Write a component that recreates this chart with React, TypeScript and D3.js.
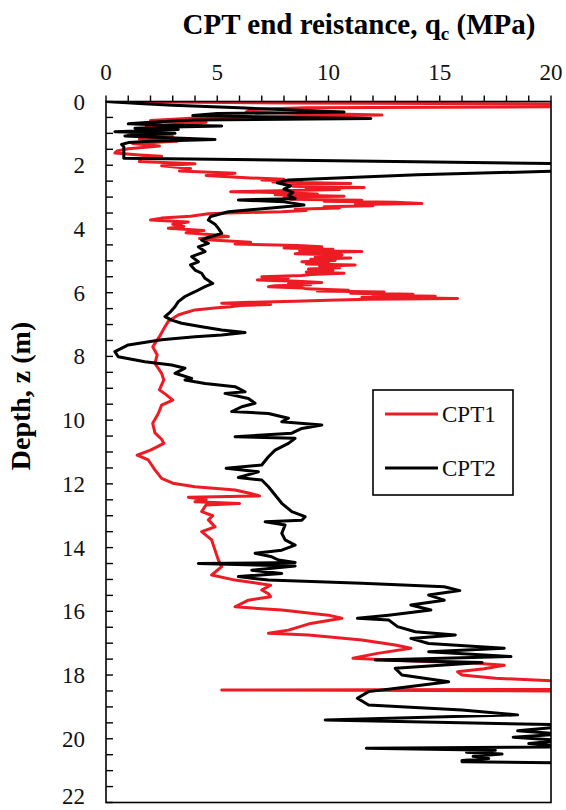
import React from 'react';
import * as d3 from 'd3';

// ---- Data: [depth (m), qc (MPa)] ----
const cpt1: [number, number][] = [
  [0, 0], [0.05, 8], [0.08, 21], [0.16, 21], [0.2, 9], [0.25, 6.5], [0.33, 6.3], [0.42, 12.4], [0.47, 8], [0.52, 4.0],
  [0.6, 2.0], [0.65, 4.5], [0.72, 3.0], [0.78, 1.8], [0.85, 3.2], [0.95, 2.0], [1.05, 1.0], [1.1, 3.0], [1.18, 1.5], [1.25, 3.2],
  [1.32, 1.2], [1.4, 2.4], [1.48, 1.0], [1.55, 0.5], [1.62, 0.4], [1.68, 1.5], [1.72, 2.5], [1.78, 1.6], [1.88, 1.5], [1.95, 4.0],
  [2.02, 2.5], [2.1, 3.8], [2.18, 3.3], [2.25, 5.8], [2.32, 4.5],
  [2.4, 6.5], [2.44, 8.0], [2.46, 7.0], [2.5, 8.8], [2.53, 7.5], [2.57, 11.0], [2.6, 8.2], [2.63, 9.5], [2.66, 8.4], [2.7, 11.6],
  [2.73, 9.0], [2.76, 10.5], [2.8, 7.8], [2.83, 5.6], [2.86, 8.0], [2.9, 9.5], [2.93, 7.6], [2.97, 10.7], [3.0, 8.0], [3.04, 9.2],
  [3.07, 8.3], [3.1, 11.5], [3.13, 9.8], [3.16, 13.0], [3.2, 14.2], [3.23, 11.2], [3.27, 12.0], [3.3, 9.8], [3.34, 10.5], [3.38, 8.5],
  [3.42, 9.0], [3.46, 7.9], [3.5, 5.5], [3.52, 4.6],
  [3.6, 3.8], [3.66, 2.5], [3.72, 2.0], [3.78, 3.7], [3.85, 3.0], [3.92, 3.5], [3.98, 2.8], [4.05, 4.4], [4.12, 3.6], [4.18, 4.8],
  [4.24, 5.5], [4.3, 4.2],
  [4.35, 4.75], [4.42, 6.5], [4.47, 5.8], [4.52, 8.6], [4.56, 9.7], [4.6, 8.0], [4.64, 10.2], [4.68, 8.7], [4.71, 11.5], [4.75, 9.0],
  [4.78, 8.5], [4.82, 10.6], [4.87, 9.4], [4.91, 11.0], [4.95, 9.2], [4.99, 10.3], [5.03, 8.8], [5.07, 10.0], [5.1, 9.0], [5.13, 11.2],
  [5.17, 9.6], [5.22, 10.5], [5.26, 9.1], [5.3, 10.2], [5.35, 9.0], [5.39, 10.7], [5.43, 9.2], [5.46, 8.8], [5.5, 7.0], [5.54, 8.2],
  [5.58, 7.1], [5.6, 6.8], [5.64, 8.6], [5.68, 9.7], [5.72, 8.2], [5.75, 9.2], [5.78, 7.6], [5.81, 7.3], [5.85, 8.8], [5.88, 9.0],
  [5.92, 10.9], [5.95, 9.5], [5.98, 12.5], [6.02, 11.0], [6.05, 13.8], [6.08, 12.0], [6.11, 14.8], [6.14, 11.5], [6.18, 15.8], [6.21, 11.8],
  [6.24, 10.0], [6.27, 8.5], [6.3, 6.5], [6.33, 5.2], [6.37, 7.4], [6.4, 6.0], [6.44, 5.6], [6.47, 5.0], [6.54, 4.0],
  [6.62, 3.6], [6.7, 3.25], [6.9, 2.8], [7.07, 2.65], [7.38, 2.4], [7.7, 2.1], [7.95, 2.3], [8.22, 2.2], [8.53, 2.5], [8.74, 2.6],
  [9.05, 2.4], [9.2, 2.7], [9.37, 3.0], [9.53, 2.5], [9.79, 2.35], [10.1, 2.1], [10.4, 2.2], [10.6, 2.5], [10.73, 2.6], [10.94, 2.0],
  [11.1, 1.4], [11.25, 1.9], [11.56, 2.2], [11.83, 2.5], [11.98, 3.0], [12.09, 4.0], [12.19, 5.8], [12.3, 6.5], [12.38, 6.9], [12.42, 3.7],
  [12.5, 4.5], [12.56, 4.0], [12.62, 6.0], [12.66, 4.5], [12.87, 4.3], [13.0, 4.8], [13.13, 4.6], [13.35, 4.9], [13.5, 4.3], [13.76, 4.75],
  [14.08, 4.9], [14.39, 5.05], [14.6, 5.2], [14.86, 4.75], [15.02, 5.8], [15.18, 7.4], [15.33, 7.0], [15.45, 7.3], [15.54, 7.4], [15.65, 6.4],
  [15.86, 5.8], [15.96, 7.9], [16.12, 10.0], [16.22, 10.6], [16.38, 9.2], [16.59, 8.2], [16.69, 7.3], [16.74, 9.1], [16.9, 11.5], [17.06, 13.0],
  [17.16, 13.7], [17.32, 12.2], [17.47, 11.1], [17.55, 13.5], [17.62, 16.5], [17.69, 17.9], [17.8, 17.0], [17.9, 15.8], [18.0, 16.0], [18.1, 17.5],
  [18.21, 21], [18.4, 21], [18.45, 20], [18.47, 5.2], [18.5, 21], [18.6, 21],
];

const cpt2: [number, number][] = [
  [0, 0], [0.06, 1.5], [0.12, 3.0], [0.2, 6.0], [0.28, 9.0], [0.33, 10.7], [0.38, 5.0], [0.44, 3.9], [0.5, 8.0], [0.53, 11.9],
  [0.58, 4.0], [0.65, 2.0], [0.7, 1.0], [0.74, 2.5], [0.77, 5.2], [0.81, 2.5], [0.84, 1.3], [0.88, 3.25], [0.95, 0.4], [1.0, 3.1],
  [1.05, 1.5], [1.08, 0.85], [1.13, 2.5], [1.19, 4.9], [1.25, 2.0], [1.29, 1.0], [1.35, 0.7], [1.42, 0.8], [1.78, 0.8], [1.84, 8.5],
  [1.89, 13.9], [1.95, 20.5], [2.05, 21], [2.18, 20.5], [2.3, 14.0], [2.46, 8.2], [2.55, 7.7], [2.65, 8.3], [2.75, 8.0], [2.85, 8.4],
  [2.95, 8.2], [3.05, 8.5], [3.09, 5.95], [3.15, 8.0], [3.25, 8.9], [3.35, 7.3], [3.46, 5.5], [3.61, 4.7], [3.72, 4.6], [3.85, 4.9],
  [3.98, 5.05], [4.14, 5.2], [4.3, 4.45], [4.35, 4.3], [4.45, 4.6], [4.56, 4.15], [4.71, 4.45], [4.87, 3.85], [5.03, 4.15], [5.13, 3.8],
  [5.29, 4.0], [5.39, 4.3], [5.55, 4.45], [5.71, 4.8], [5.81, 4.45], [5.97, 4.0], [6.12, 3.55], [6.28, 3.25], [6.44, 3.1], [6.6, 2.9],
  [6.75, 2.65], [6.86, 2.95], [6.96, 3.4], [7.07, 4.3], [7.17, 5.2], [7.25, 6.25], [7.33, 5.2], [7.38, 4.0], [7.48, 2.5], [7.64, 1.0],
  [7.85, 0.4], [8.01, 0.55], [8.17, 1.75], [8.27, 2.95], [8.37, 3.55], [8.53, 3.1], [8.69, 3.85], [8.74, 3.55], [8.85, 4.45], [8.95, 5.8],
  [9.11, 6.25], [9.16, 5.35], [9.32, 6.4], [9.47, 6.7], [9.58, 6.1], [9.73, 5.65], [9.79, 7.3], [9.94, 8.2], [10.05, 7.9], [10.15, 9.7],
  [10.26, 8.8], [10.41, 8.35], [10.52, 5.8], [10.57, 8.5], [10.73, 8.2], [10.94, 7.6], [11.15, 7.3], [11.41, 7.0], [11.51, 5.4], [11.62, 6.85],
  [11.8, 5.95], [11.88, 7.0], [12.09, 7.3], [12.35, 7.6], [12.61, 7.9], [12.87, 8.35], [13.03, 8.95], [13.14, 8.8], [13.19, 7.15], [13.29, 8.05],
  [13.55, 7.9], [13.76, 8.05], [13.92, 8.5], [14.08, 7.9], [14.18, 6.7], [14.29, 7.45], [14.39, 7.75], [14.47, 8.5], [14.5, 4.15], [14.58, 8.5],
  [14.71, 6.55], [14.81, 7.9], [14.91, 5.95], [15.02, 7.3], [15.12, 11.5], [15.23, 15.2], [15.35, 15.9], [15.49, 14.5], [15.65, 15.2], [15.8, 13.7],
  [15.96, 14.6], [16.12, 12.7], [16.22, 11.3], [16.27, 12.7], [16.48, 13.1], [16.64, 13.9], [16.74, 15.7], [16.85, 13.7], [17.01, 14.5], [17.16, 17.9],
  [17.27, 14.5], [17.42, 18.2], [17.53, 12.1], [17.61, 16.9], [17.79, 13.0], [18.0, 13.3], [18.21, 15.4], [18.37, 13.6], [18.52, 11.8], [18.73, 11.3],
  [18.94, 11.8], [19.1, 16.0], [19.25, 18.5], [19.41, 9.85], [19.57, 21], [19.65, 20], [19.75, 18.5], [19.85, 20.5], [19.95, 18.3], [20.05, 20.5],
  [20.15, 19], [20.25, 21], [20.3, 11.7], [20.36, 17.5], [20.42, 16.2], [20.48, 17.8], [20.55, 16.5], [20.62, 17.2], [20.68, 16.0], [20.72, 16.0],
  [20.76, 21],
];

const xTickLabels = [0, 5, 10, 15, 20];
const yTickLabels = [0, 2, 4, 6, 8, 10, 12, 14, 16, 18, 20, 22];
const seriesNames = ['CPT1', 'CPT2'];
const seriesColors = ['#ed1c24', '#000000'];

const FONT = "'Liberation Serif', 'Times New Roman', serif";

export default function App() {
  const W = 566, H = 810;
  const L = 106, R = 551, T = 101.5, B = 802.5;
  const x = d3.scaleLinear().domain([0, 20]).range([L, R]);
  const y = d3.scaleLinear().domain([0, 22]).range([T, B]);
  const line = d3.line<[number, number]>().x(d => x(d[1])).y(d => y(d[0]));

  const series = [cpt1, cpt2];
  const xMinor = d3.range(0, 20.001, 1);
  const yMinor = d3.range(0, 22.001, 0.5);

  return (
    <svg width={W} height={H} style={{ position: 'absolute', left: 0, top: 0, background: '#fff' }}>
      <defs>
        <clipPath id="plotClip">
          <rect x={L} y={T} width={R - L} height={B - T} />
        </clipPath>
      </defs>
      <rect x={0} y={0} width={W} height={H} fill="#fff" />

      {/* Title */}
      <text x={359} y={34} textAnchor="middle" fontFamily={FONT} fontWeight="bold" fontSize={29} fill="#000">
        CPT end reistance, q<tspan fontSize={19} dy={6}>c</tspan><tspan dy={-6}> (MPa)</tspan>
      </text>

      {/* Lines */}
      <g clipPath="url(#plotClip)">
        {series.map((s, i) => (
          <path key={i} d={line(s) || ''} fill="none" stroke={seriesColors[i]} strokeWidth={3} strokeLinejoin="round" strokeLinecap="round" />
        ))}
      </g>

      {/* Frame */}
      <rect x={L} y={T} width={R - L} height={B - T} fill="none" stroke="#000" strokeWidth={1.6} />

      {/* Top axis ticks */}
      {xMinor.map(v => (
        <line key={'xt' + v} x1={x(v)} x2={x(v)} y1={T} y2={T - 6} stroke="#000" strokeWidth={1.4} />
      ))}
      {xTickLabels.map(v => (
        <text key={'xl' + v} x={x(v)} y={80} textAnchor="middle" fontFamily={FONT} fontSize={23} fill="#111">{v}</text>
      ))}

      {/* Left axis ticks */}
      {yMinor.map(v => (
        <line key={'yt' + v} x1={L} x2={L + 7} y1={y(v)} y2={y(v)} stroke="#000" strokeWidth={1.4} />
      ))}
      {yTickLabels.map(v => (
        <text key={'yl' + v} x={85} y={Math.min(y(v), 796)} dy="0.35em" textAnchor="end" fontFamily={FONT} fontSize={23} fill="#111">{v}</text>
      ))}

      {/* Y axis title */}
      <text transform={`translate(30,396) rotate(-90)`} textAnchor="middle" fontFamily={FONT} fontWeight="bold" fontSize={28} fill="#000">
        Depth, z (m)
      </text>

      {/* Legend */}
      <rect x={373} y={390} width={140} height={105} fill="#fff" stroke="#000" strokeWidth={1.6} />
      {seriesNames.map((n, i) => {
        const ly = 414 + i * 54;
        return (
          <g key={n}>
            <line x1={385} x2={438} y1={ly} y2={ly} stroke={seriesColors[i]} strokeWidth={3} />
            <text x={442} y={ly} dy="0.35em" fontFamily={FONT} fontSize={23} fill="#111">{n}</text>
          </g>
        );
      })}
    </svg>
  );
}
